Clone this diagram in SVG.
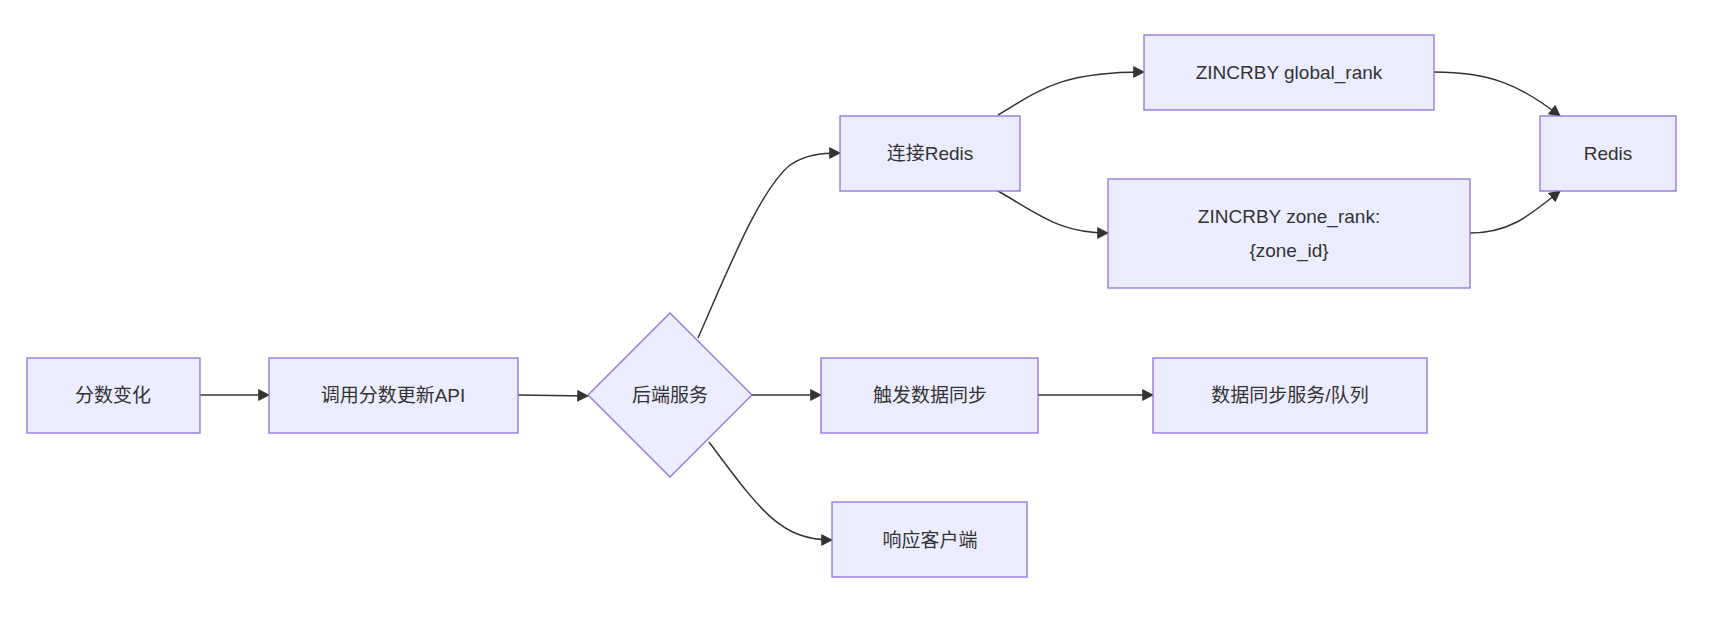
<svg xmlns="http://www.w3.org/2000/svg" width="1710" height="624" viewBox="0 0 1710 624">
<style>
.n{fill:#ECECFF;stroke:#9370DB;stroke-width:1.3}
.t{font-family:"Liberation Sans","Noto Sans CJK SC",sans-serif;font-size:19px;fill:#333;text-anchor:middle;dominant-baseline:central}
.e{fill:none;stroke:#333;stroke-width:1.5;marker-end:url(#a)}
</style>
<defs><marker id="a" viewBox="0 0 10 10" refX="9" refY="5" markerWidth="8" markerHeight="8" orient="auto"><path d="M0,0L10,5L0,10z" fill="#333"/></marker></defs>
<rect width="1710" height="624" fill="#fff"/>
<g id="edges">
<path class="e" d="M200,395L269,395"/>
<path class="e" d="M518,395L588,396"/>
<path class="e" d="M698,338C730,265 760,190 790,165C805,155 820,153 840,153"/>
<path class="e" d="M752,395L821,395"/>
<path class="e" d="M709,442C760,510 780,540 832,540"/>
<path class="e" d="M998,115C1040,90 1060,72 1144,72"/>
<path class="e" d="M998,191C1040,215 1060,233 1108,233"/>
<path class="e" d="M1434,72C1490,72 1520,85 1560,116"/>
<path class="e" d="M1470,233C1510,233 1530,215 1560,191"/>
<path class="e" d="M1038,395L1153,395"/>
</g>
<g id="n1"><rect class="n" x="27" y="358" width="173" height="75"/><text class="t" x="113" y="395">分数变化</text></g>
<g id="n2"><rect class="n" x="269" y="358" width="249" height="75"/><text class="t" x="393" y="395">调用分数更新API</text></g>
<g id="n3"><polygon class="n" points="670,313 752,395 670,477 588,395"/><text class="t" x="670" y="395">后端服务</text></g>
<g id="n4"><rect class="n" x="840" y="116" width="180" height="75"/><text class="t" x="930" y="153">连接Redis</text></g>
<g id="n5"><rect class="n" x="1144" y="35" width="290" height="75"/><text class="t" x="1289" y="72">ZINCRBY global_rank</text></g>
<g id="n6"><rect class="n" x="1108" y="179" width="362" height="109"/><text class="t" x="1289" y="216">ZINCRBY zone_rank:</text><text class="t" x="1289" y="250">{zone_id}</text></g>
<g id="n7"><rect class="n" x="1540" y="116" width="136" height="75"/><text class="t" x="1608" y="153">Redis</text></g>
<g id="n8"><rect class="n" x="821" y="358" width="217" height="75"/><text class="t" x="930" y="395">触发数据同步</text></g>
<g id="n9"><rect class="n" x="1153" y="358" width="274" height="75"/><text class="t" x="1290" y="395">数据同步服务/队列</text></g>
<g id="n10"><rect class="n" x="832" y="502" width="195" height="75"/><text class="t" x="930" y="540">响应客户端</text></g>
</svg>
